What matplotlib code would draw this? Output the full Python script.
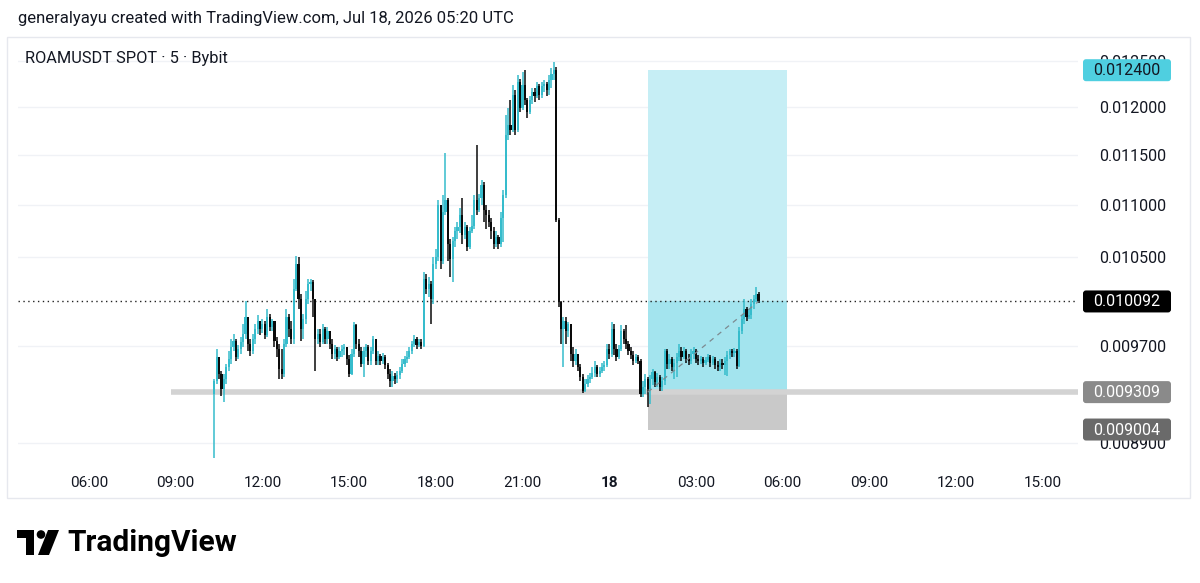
import matplotlib.pyplot as plt
import matplotlib.ticker as mticker
from matplotlib.patches import FancyBboxPatch, Rectangle, Circle, Polygon
import numpy as np
import pandas as pd

plt.rcParams['font.family'] = ['Roboto', 'DejaVu Sans']

# ROAMUSDT 5m candles, prices in 1e-6 USDT, open of each bar = previous close
first_open = 9295
close = [
    9403, 9605, 9462, 9337, 9420, 9521, 9588, 9691, 9743, 9605,
    9674, 9734, 9803, 9953, 9717, 9657, 9760, 9847, 9917, 9847,
    9891, 9795, 9953, 9865, 9917, 9743, 9674, 9504, 9462, 9717,
    9953, 9847, 9760, 10203, 10431, 10113, 9847, 9935, 10113, 10248,
    10266, 10113, 9760, 9803, 9734, 9847, 9760, 9830, 9717, 9631,
    9674, 9605, 9657, 9674, 9691, 9588, 9462, 9631, 9882, 9717,
    9657, 9546, 9657, 9691, 9571, 9657, 9760, 9571, 9614, 9571,
    9605, 9537, 9462, 9403, 9445, 9420, 9453, 9487, 9546, 9588,
    9605, 9657, 9717, 9760, 9708, 9734, 9700, 10294, 10203, 10248,
    10113, 10431, 10496, 11000, 10459, 10933, 11049, 10618, 10478, 10646,
    10741, 10779, 10904, 10712, 10779, 10590, 10741, 10798, 11049, 10952,
    11069, 11197, 10952, 10904, 10836, 10741, 10618, 10684, 10618, 10875,
    11098, 11705, 11810, 11757, 12129, 11757, 12270, 11989, 12237, 12075,
    11947, 12075, 12161, 12118, 12226, 12129, 12226, 12248, 12183, 12292,
    12358, 12402, 10855, 10086, 9847, 9917, 9830, 9891, 9631, 9571,
    9631, 9521, 9437, 9320, 9378, 9420, 9437, 9470, 9521, 9462,
    9487, 9521, 9537, 9674, 9631, 9847, 9674, 9605, 9674, 9830,
    9760, 9717, 9657, 9622, 9571, 9605, 9571, 9295, 9354, 9420,
    9337, 9420, 9479, 9395, 9437, 9354, 9403, 9657, 9546, 9588,
    9521, 9554, 9605, 9657, 9605, 9657, 9588, 9571, 9631, 9657,
    9588, 9571, 9588, 9554, 9580, 9605, 9554, 9588, 9537, 9521,
    9554, 9537, 9571, 9622, 9657, 9640, 9657, 9529, 9830, 9935,
    10023, 9953, 9970, 10068, 10113, 10158, 10092,
]
high = [
    9420, 9674, 9588, 9487, 9462, 9546, 9657, 9760, 9803, 9760,
    9708, 9777, 9891, 10095, 9953, 9760, 9803, 9891, 9970, 9917,
    9935, 9917, 10023, 9979, 9935, 9917, 9777, 9717, 9674, 9760,
    10023, 9979, 9917, 10294, 10506, 10496, 10158, 9979, 10185, 10294,
    10294, 10285, 10113, 9847, 9847, 9891, 9865, 9865, 9830, 9760,
    9708, 9691, 9691, 9708, 9717, 9691, 9622, 9674, 9908, 9891,
    9760, 9691, 9691, 9717, 9708, 9691, 9786, 9760, 9657, 9631,
    9640, 9622, 9554, 9504, 9487, 9470, 9487, 9521, 9588, 9614,
    9657, 9691, 9743, 9795, 9777, 9760, 9760, 10358, 10339, 10312,
    10276, 10496, 10571, 11049, 11000, 11098, 11519, 11069, 10665, 10684,
    10779, 10836, 10971, 11069, 10836, 10807, 10779, 10904, 11098, 11601,
    11108, 11247, 11220, 11000, 10952, 10875, 10779, 10741, 10712, 10933,
    11148, 11915, 11989, 12075, 12237, 12183, 12347, 12300, 12380, 12402,
    12097, 12118, 12205, 12205, 12270, 12248, 12270, 12292, 12270, 12347,
    12424, 12491, 12435, 10875, 10095, 9953, 9953, 9908, 9891, 9691,
    9674, 9631, 9546, 9462, 9420, 9453, 9470, 9521, 9571, 9537,
    9521, 9554, 9571, 9717, 9717, 9908, 9891, 9717, 9708, 9882,
    9847, 9882, 9743, 9691, 9657, 9631, 9622, 9588, 9403, 9462,
    9437, 9453, 9504, 9487, 9470, 9453, 9437, 9674, 9674, 9631,
    9605, 9588, 9640, 9717, 9691, 9691, 9674, 9631, 9674, 9691,
    9674, 9622, 9614, 9605, 9605, 9631, 9622, 9614, 9605, 9571,
    9588, 9588, 9605, 9657, 9674, 9674, 9683, 9674, 9865, 9970,
    10113, 10041, 10023, 10113, 10149, 10221, 10176,
]
low = [
    8775, 9378, 9420, 9279, 9230, 9378, 9487, 9546, 9657, 9571,
    9588, 9631, 9691, 9760, 9657, 9614, 9631, 9717, 9803, 9795,
    9812, 9760, 9777, 9830, 9830, 9691, 9605, 9420, 9420, 9437,
    9691, 9777, 9717, 9717, 10185, 10023, 9743, 9760, 9891, 10068,
    10185, 9953, 9487, 9717, 9691, 9717, 9717, 9717, 9674, 9588,
    9588, 9571, 9588, 9605, 9622, 9537, 9437, 9453, 9605, 9674,
    9605, 9521, 9437, 9605, 9537, 9537, 9631, 9537, 9537, 9537,
    9546, 9504, 9420, 9354, 9354, 9378, 9387, 9420, 9470, 9521,
    9554, 9588, 9631, 9691, 9674, 9691, 9674, 9691, 10158, 10131,
    9891, 10068, 10385, 10459, 10385, 10431, 10904, 10459, 10312, 10266,
    10590, 10665, 10722, 10618, 10665, 10552, 10571, 10722, 10760, 10904,
    10933, 11000, 10836, 10760, 10779, 10665, 10571, 10590, 10571, 10590,
    10637, 11069, 11653, 11705, 11736, 11705, 11736, 11947, 11968, 12021,
    11883, 11926, 12032, 12054, 12097, 12075, 12097, 12161, 12118, 12129,
    12205, 12292, 10836, 10041, 9717, 9521, 9717, 9777, 9571, 9521,
    9537, 9487, 9403, 9304, 9312, 9354, 9387, 9420, 9437, 9437,
    9437, 9470, 9487, 9521, 9588, 9605, 9622, 9571, 9588, 9657,
    9717, 9674, 9622, 9588, 9537, 9554, 9546, 9271, 9271, 9295,
    9189, 9213, 9370, 9354, 9354, 9320, 9320, 9370, 9504, 9504,
    9487, 9420, 9437, 9571, 9571, 9588, 9554, 9537, 9546, 9588,
    9554, 9537, 9546, 9521, 9537, 9563, 9521, 9537, 9504, 9487,
    9487, 9504, 9453, 9445, 9588, 9605, 9605, 9504, 9521, 9803,
    9891, 9917, 9935, 9935, 10023, 10086, 10080,
]

price_ticks = [0.0125, 0.012, 0.0115, 0.011, 0.0105, 0.0097, 0.0089]
time_ticks = [6, 9, 12, 15, 18, 21, 24, 27, 30, 33, 36, 39]
time_labels = ['06:00', '09:00', '12:00', '15:00', '18:00', '21:00', '18',
               '03:00', '06:00', '09:00', '12:00', '15:00']

# long position tool + horizontal level
entry_price = 0.009309
target_price = 0.012400
stop_price = 0.009004
entry_time = '2026-07-18 01:20'
tool_end = '2026-07-18 06:10'
level_start = '2026-07-17 08:50'

UP = '#36bccc'
DOWN = '#0a0a0a'
TEXT = '#131722'

day0 = pd.Timestamp('2026-07-17')
def hours(ts):
    return (pd.Timestamp(ts) - day0) / pd.Timedelta(hours=1)

times = pd.date_range('2026-07-17 10:20', periods=len(close), freq='5min')
x = ((times - day0) / pd.Timedelta(hours=1)).to_numpy()
c = np.array(close) * 1e-6
o = np.array([first_open] + close[:-1]) * 1e-6
h = np.array(high) * 1e-6
l = np.array(low) * 1e-6
col = np.where(c >= o, UP, DOWN)

fig = plt.figure(figsize=(12, 5.83), dpi=100)
fig.patch.set_facecolor('white')

# background layer in pixel coords (panel border)
deco = fig.add_axes([0, 0, 1, 1], zorder=-1)
deco.set_xlim(0, 1200)
deco.set_ylim(583, 0)
deco.axis('off')
deco.add_patch(Rectangle((7, 37), 1183, 461, fill=False, ec='#e6e8ee', lw=1))

ax = fig.add_axes([18 / 1200, 1 - 465 / 583, 1060 / 1200, 425 / 583])
ax.set_yscale('log')
ax.set_ylim(0.008724, 0.012738)
ax.set_xlim(3.543, 40.22)
for s in ax.spines.values():
    s.set_visible(False)

ax.yaxis.tick_right()
ax.yaxis.set_major_locator(mticker.FixedLocator(price_ticks))
ax.yaxis.set_minor_locator(mticker.NullLocator())
ax.yaxis.set_major_formatter(mticker.FuncFormatter(lambda v, p: f'{v:.6f}'))
ax.tick_params(axis='y', length=0, pad=15, labelsize=11.5, labelcolor=TEXT)
ax.set_xticks(time_ticks)
ax.set_xticklabels(time_labels)
ax.tick_params(axis='x', length=0, pad=8, labelsize=11, labelcolor=TEXT)
for lab in ax.get_xticklabels():
    if lab.get_text() == '18':
        lab.set_fontweight('bold')
ax.grid(axis='y', color='#f0f2f6', lw=1)
ax.set_axisbelow(True)

# long position zones
t0, t1 = hours(entry_time), hours(tool_end)
ax.fill_between([t0, t1], c[-1], target_price, color='#c6eef5', lw=0, zorder=1)
ax.fill_between([t0, t1], entry_price, c[-1], color='#a3e4ee', lw=0, zorder=1)
ax.fill_between([t0, t1], stop_price, entry_price, color='#c9c9c9', lw=0, zorder=1)

# horizontal level
ax.hlines(entry_price, hours(level_start), 40.22, color='#d3d3d3', lw=4, zorder=2)

# candles
ax.vlines(x, l, h, colors=col, lw=1.1, zorder=4)
ax.bar(x, np.maximum(np.abs(c - o), 5e-6), bottom=np.minimum(o, c), width=0.075,
       color=col, lw=0, zorder=5)

# dashed path entry -> last price, dotted last price line
ax.plot([t0, x[-1]], [entry_price, c[-1]], color='#7d8a90', lw=0.9, ls=(0, (4, 4)), zorder=6)
ax.axhline(c[-1], color='#222222', lw=1, ls=(0, (1, 2.5)), zorder=3)

# top layer: texts and price tags
top = fig.add_axes([0, 0, 1, 1], zorder=5)
top.set_xlim(0, 1200)
top.set_ylim(583, 0)
top.axis('off')
top.patch.set_alpha(0)

fig.canvas.draw()
def price_tag(price, fc, tc):
    ypx = 583 - ax.transData.transform((x[0], price))[1]
    top.add_patch(FancyBboxPatch((1083, ypx - 11), 88, 22,
                                 boxstyle='round,pad=0,rounding_size=3', fc=fc, ec='none'))
    top.text(1127, ypx + 0.5, f'{price:.6f}', ha='center', va='center',
             fontsize=11.5, color=tc)

price_tag(target_price, '#4fcfe0', TEXT)
price_tag(c[-1], '#000000', 'white')
price_tag(entry_price, '#8a8a8a', 'white')
price_tag(stop_price, '#6a6a6a', 'white')

top.text(18, 18, 'generalyayu created with TradingView.com, Jul 18, 2026 05:20 UTC',
         ha='left', va='center', fontsize=12, color=TEXT)
top.text(25, 59, 'ROAMUSDT SPOT · 5 · Bybit', ha='left', va='center',
         fontsize=11.8, color=TEXT)

# TradingView logo
top.add_patch(Rectangle((17, 530), 17, 8, color='black', lw=0))
top.add_patch(Rectangle((26, 530), 8, 25, color='black', lw=0))
top.add_patch(Circle((41, 534.5), 4.3, color='black', lw=0))
top.add_patch(Polygon([(48, 530), (59, 530), (49, 555), (38, 555)], closed=True,
                      color='black', lw=0))
top.text(67, 543, 'TradingView', ha='left', va='center', fontsize=21.5,
         fontweight='bold', color='black')

fig.savefig('out.png', dpi=100, facecolor='white')
